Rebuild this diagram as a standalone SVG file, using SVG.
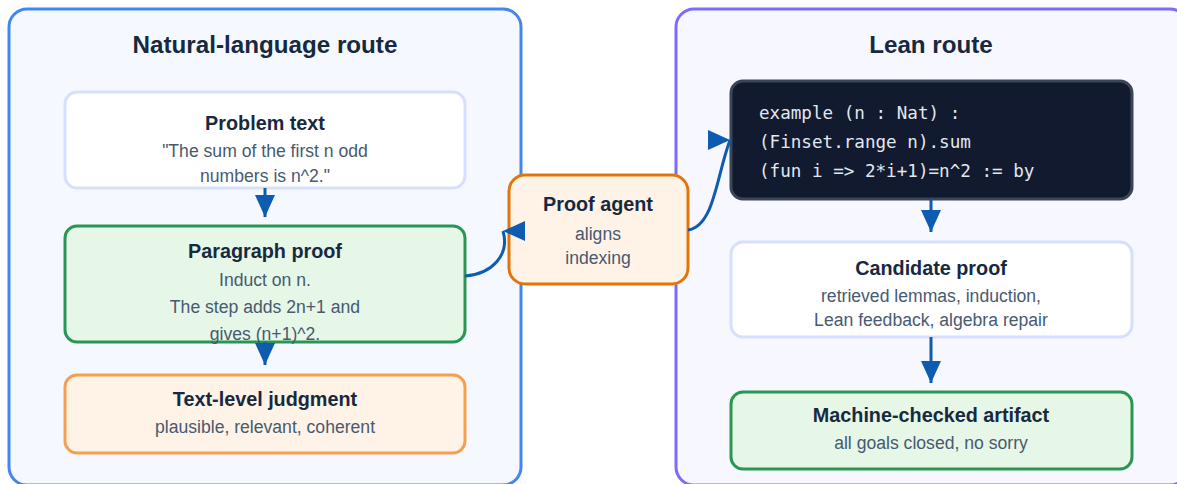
<svg xmlns="http://www.w3.org/2000/svg" width="1177" height="484" viewBox="0 0 1177 484">
  <style>
    .panel-title { font-family: "Liberation Sans", Arial, sans-serif; font-size: 24.2px; font-weight: bold; fill: #17293f; text-anchor: middle; }
    .title { font-family: "Liberation Sans", Arial, sans-serif; font-size: 19.8px; font-weight: bold; fill: #17293f; text-anchor: middle; }
    .body { font-family: "Liberation Sans", Arial, sans-serif; font-size: 17.6px; fill: #475a70; text-anchor: middle; }
    .mono { font-family: "DejaVu Sans Mono", monospace; font-size: 17.6px; fill: #e2e8f0; }
    .white { fill: #ffffff; stroke: #d6e0fd; stroke-width: 3; }
    .green { fill: #e6f6e7; stroke: #2a9653; stroke-width: 3; }
    .orange { fill: #fef3e6; stroke: #f4a04e; stroke-width: 3; }
    .agent { fill: #fef3e6; stroke: #e2740c; stroke-width: 3; }
    .code { fill: #111a2e; stroke: #3a4557; stroke-width: 3; }
    .conn { fill: none; stroke: #0d5cb0; stroke-width: 3; }
  </style>
  <defs>
    <marker id="arrow" markerUnits="userSpaceOnUse" markerWidth="22" markerHeight="20" refX="22" refY="10" orient="auto">
      <path d="M0,0 L22,10 L0,20 Z" fill="#0d5cb0"/>
    </marker>
    <marker id="arrowR" markerUnits="userSpaceOnUse" markerWidth="22" markerHeight="20" refX="22" refY="10" orient="0">
      <path d="M0,0 L22,10 L0,20 Z" fill="#0d5cb0"/>
    </marker>
    <marker id="arrowL" markerUnits="userSpaceOnUse" markerWidth="22" markerHeight="20" refX="22" refY="10" orient="180">
      <path d="M0,0 L22,10 L0,20 Z" fill="#0d5cb0"/>
    </marker>
  </defs>

  <g id="panel-nl">
    <rect x="9" y="9" width="512" height="476" rx="18" fill="#f5f9ff" stroke="#4287f0" stroke-width="3"/>
    <text class="panel-title" x="265" y="53">Natural-language route</text>
  </g>
  <g id="panel-lean">
    <rect x="676" y="9" width="512" height="476" rx="18" fill="#f7f7ff" stroke="#7b6cfb" stroke-width="3"/>
    <text class="panel-title" x="931" y="53">Lean route</text>
  </g>

  <g id="problem-text">
    <rect class="white" x="65" y="92" width="400" height="96" rx="12"/>
    <text class="title" x="265" y="130">Problem text</text>
    <text class="body" x="265" y="157">"The sum of the first n odd</text>
    <text class="body" x="265" y="182">numbers is n^2."</text>
  </g>

  <g id="paragraph-proof">
    <rect class="green" x="65" y="226" width="400" height="116" rx="12"/>
    <text class="title" x="265" y="258">Paragraph proof</text>
    <text class="body" x="265" y="286">Induct on n.</text>
    <text class="body" x="265" y="313">The step adds 2n+1 and</text>
    <text class="body" x="265" y="340">gives (n+1)^2.</text>
  </g>

  <g id="text-level-judgment">
    <rect class="orange" x="65" y="375" width="400" height="78" rx="12"/>
    <text class="title" x="265" y="406">Text-level judgment</text>
    <text class="body" x="265" y="433">plausible, relevant, coherent</text>
  </g>

  <g id="proof-agent">
    <rect class="agent" x="509" y="175" width="179" height="109" rx="16"/>
    <text class="title" x="598" y="211">Proof agent</text>
    <text class="body" x="598" y="240">aligns</text>
    <text class="body" x="598" y="264">indexing</text>
  </g>

  <g id="lean-statement">
    <rect class="code" x="731" y="81" width="401" height="118" rx="12"/>
    <text class="mono" x="759" y="119">example (n : Nat) :</text>
    <text class="mono" x="759" y="148">(Finset.range n).sum</text>
    <text class="mono" x="759" y="177">(fun i =&gt; 2*i+1)=n^2 := by</text>
  </g>

  <g id="candidate-proof">
    <rect class="white" x="731" y="242" width="401" height="95" rx="12"/>
    <text class="title" x="931" y="275">Candidate proof</text>
    <text class="body" x="931" y="302">retrieved lemmas, induction,</text>
    <text class="body" x="931" y="326">Lean feedback, algebra repair</text>
  </g>

  <g id="machine-checked">
    <rect class="green" x="731" y="392" width="401" height="77" rx="12"/>
    <text class="title" x="931" y="422">Machine-checked artifact</text>
    <text class="body" x="931" y="449">all goals closed, no sorry</text>
  </g>

  <g id="connectors">
    <line class="conn" x1="265" y1="188" x2="265" y2="217" marker-end="url(#arrow)"/>
    <line class="conn" x1="265" y1="342" x2="265" y2="365" marker-end="url(#arrow)"/>
    <path class="conn" d="M465,276 C492,274 510,255 503,231" marker-end="url(#arrowL)"/>
    <path class="conn" d="M688,230 C714,226 716,178 730,140" marker-end="url(#arrowR)"/>
    <line class="conn" x1="931" y1="199" x2="931" y2="232" marker-end="url(#arrow)"/>
    <line class="conn" x1="931" y1="337" x2="931" y2="383" marker-end="url(#arrow)"/>
  </g>
</svg>
